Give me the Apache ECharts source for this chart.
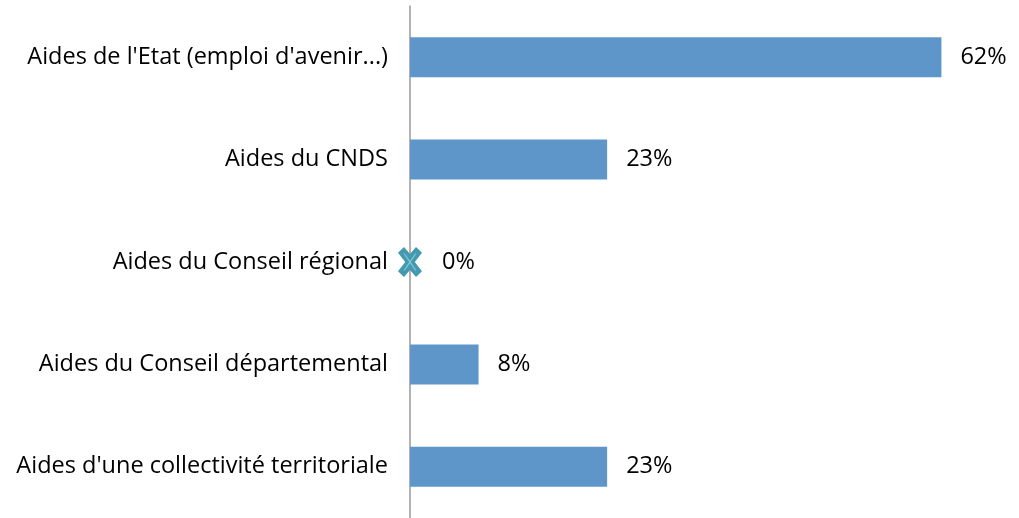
<!DOCTYPE html>
<html>
<head>
<meta charset="utf-8">
<script src="https://cdn.jsdelivr.net/npm/echarts@6/dist/echarts.min.js"></script>
<style>
  html, body { margin: 0; padding: 0; background: #fff; }
  #chart { width: 1019px; height: 518px; }
</style>
</head>
<body>
<div id="chart"></div>
<script>
// categories, top to bottom
var categories = [
    "Aides de l'Etat (emploi d'avenir...)",
    "Aides du CNDS",
    "Aides du Conseil régional",
    "Aides du Conseil départemental",
    "Aides d'une collectivité territoriale"
];
var values = [62, 23, 0, 8, 23];

var chart = echarts.init(document.getElementById('chart'));

// zero values are shown with a marker instead of a bar
var markerData = [];
values.forEach(function (v, i) {
    if (v === 0) markerData.push([v, categories[i]]);
});

var labelFont = "'Open Sans', sans-serif";
var labelSize = 23.5;

chart.setOption({
    animation: false,
    grid: { left: 410, top: 6, width: 600, height: 517 },
    xAxis: {
        type: 'value',
        min: 0,
        max: 70,
        show: false
    },
    yAxis: {
        type: 'category',
        data: categories,
        inverse: true,
        axisLine: { show: true, lineStyle: { color: '#999', width: 1.5 } },
        axisTick: { show: false },
        axisLabel: {
            color: '#000',
            fontSize: labelSize,
            fontFamily: labelFont,
            margin: 22
        }
    },
    series: [{
        type: 'bar',
        data: values.map(function (v) { return v === 0 ? null : v; }),
        barWidth: 40,
        itemStyle: { color: '#5F96C9' },
        label: {
            show: true,
            position: 'right',
            distance: 19,
            color: '#000',
            fontSize: labelSize,
            fontFamily: labelFont,
            formatter: '{c}%'
        }
    }, {
        // thick outer cross
        type: 'scatter',
        data: markerData,
        symbol: 'path://M0,5 L5,0 L10,6 L15,0 L20,5 L14,13 L20,21 L15,26 L10,20 L5,26 L0,21 L6,13 Z',
        symbolSize: [24, 30],
        itemStyle: { color: '#4499AE', opacity: 1 },
        z: 5,
        label: {
            show: true,
            position: 'right',
            distance: 20,
            color: '#000',
            fontSize: labelSize,
            fontFamily: labelFont,
            formatter: function (p) { return p.value[0] + '%'; }
        }
    }, {
        // lighter inner cross
        type: 'scatter',
        data: markerData,
        symbol: 'path://M0,0 L1,0 L5,6 L9,0 L10,0 L5.6,7 L10,14 L9,14 L5,8 L1,14 L0,14 L4.4,7 Z',
        symbolSize: [13, 17],
        itemStyle: { color: '#7FC6D8', opacity: 1 },
        z: 6,
        silent: true
    }]
});
</script>
</body>
</html>
